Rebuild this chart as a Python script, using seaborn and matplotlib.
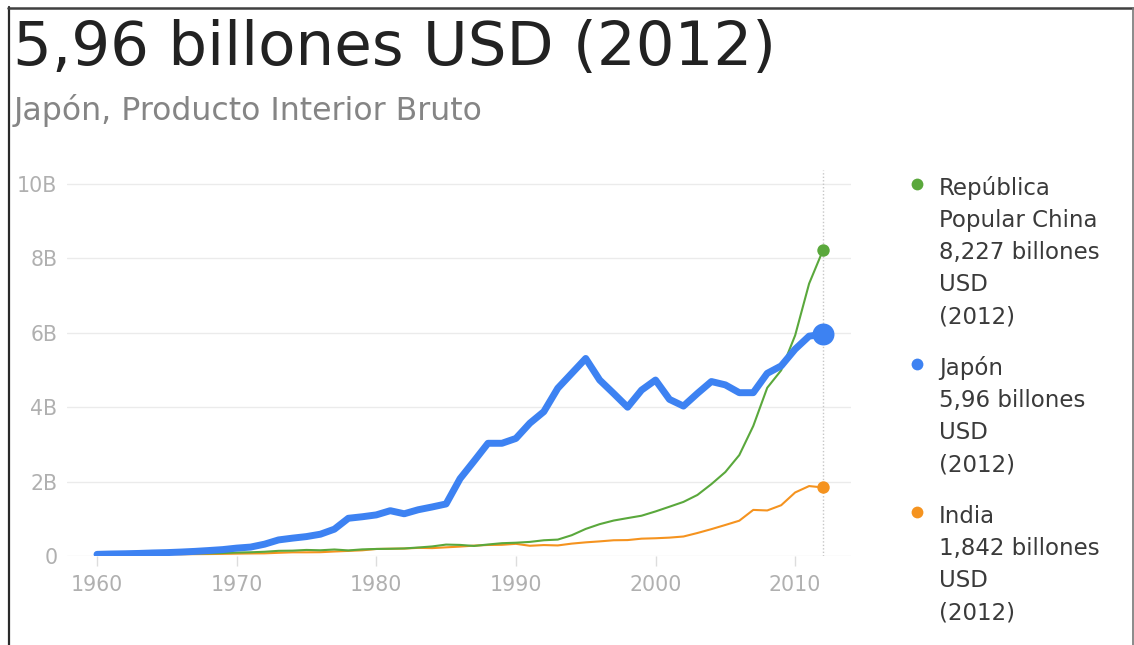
import matplotlib
matplotlib.use("Agg")
import matplotlib.pyplot as plt
import pandas as pd
import seaborn as sns
from matplotlib.lines import Line2D

# GDP, current USD, trillions ("billones")
years = list(range(1960, 2013))
china = [0.060, 0.050, 0.047, 0.051, 0.060, 0.070, 0.077, 0.073, 0.071, 0.080,
         0.093, 0.100, 0.114, 0.139, 0.144, 0.163, 0.154, 0.175, 0.150, 0.178,
         0.189, 0.194, 0.203, 0.228, 0.257, 0.307, 0.298, 0.270, 0.309, 0.344,
         0.357, 0.379, 0.423, 0.441, 0.559, 0.728, 0.856, 0.953, 1.019, 1.083,
         1.198, 1.325, 1.454, 1.641, 1.932, 2.257, 2.713, 3.494, 4.522, 4.992,
         5.931, 7.322, 8.227]
japan = [0.044, 0.054, 0.060, 0.069, 0.082, 0.091, 0.106, 0.124, 0.147, 0.172,
         0.212, 0.240, 0.318, 0.432, 0.480, 0.522, 0.586, 0.721, 1.014, 1.055,
         1.105, 1.218, 1.135, 1.243, 1.318, 1.399, 2.078, 2.550, 3.030, 3.030,
         3.160, 3.570, 3.880, 4.510, 4.910, 5.310, 4.730, 4.370, 4.000, 4.460,
         4.730, 4.210, 4.030, 4.370, 4.690, 4.600, 4.390, 4.390, 4.910, 5.110,
         5.560, 5.910, 5.960]
india = [0.037, 0.039, 0.042, 0.048, 0.056, 0.059, 0.046, 0.050, 0.053, 0.057,
         0.063, 0.068, 0.071, 0.086, 0.099, 0.099, 0.102, 0.121, 0.137, 0.153,
         0.189, 0.196, 0.200, 0.219, 0.212, 0.233, 0.253, 0.279, 0.296, 0.301,
         0.327, 0.275, 0.294, 0.284, 0.333, 0.367, 0.393, 0.423, 0.428, 0.466,
         0.477, 0.494, 0.524, 0.618, 0.722, 0.834, 0.949, 1.239, 1.224, 1.365,
         1.708, 1.880, 1.842]

countries = ["República Popular China", "Japón", "India"]
legend_name_lines = [["República", "Popular China"], ["Japón"], ["India"]]
x_ticks = [1960, 1970, 1980, 1990, 2000, 2010]
y_ticks = [0, 2, 4, 6, 8, 10]
y_tick_labels = ["0", "2B", "4B", "6B", "8B", "10B"]
last_year = 2012
subtitle = "Japón, Producto Interior Bruto"

colors = {"República Popular China": "#5aa83c", "Japón": "#3d82f2", "India": "#f5931f"}
widths = {"República Popular China": 1.5, "Japón": 5.0, "India": 1.5}
end_sizes = {"República Popular China": 80, "Japón": 250, "India": 80}

df = pd.DataFrame({
    "year": years * 3,
    "gdp": china + japan + india,
    "country": [countries[0]] * len(years) + [countries[1]] * len(years) + [countries[2]] * len(years),
})


def fmt(v):
    return f"{v:g}".replace(".", ",")


sns.set_theme(style="white")
plt.rcParams["font.family"] = ["DejaVu Sans"]

W, H = 1134, 645
fig = plt.figure(figsize=(W / 100, H / 100), dpi=100)
fig.patch.set_facecolor("white")


def fx(x):
    return x / W


def fy(y):
    return 1 - y / H


ax = fig.add_axes([fx(67), fy(556), (851 - 67) / W, (556 - 170) / H])
ax.set_facecolor("white")

# highlighted series drawn last so it sits on top
for name in ["India", "República Popular China", "Japón"]:
    sub = df[df["country"] == name]
    sns.lineplot(data=sub, x="year", y="gdp", ax=ax, color=colors[name],
                 linewidth=widths[name], solid_joinstyle="round",
                 solid_capstyle="round", legend=False, zorder=3)
    last = sub[sub["year"] == last_year]
    ax.scatter(last["year"], last["gdp"], s=end_sizes[name], color=colors[name],
               zorder=4, clip_on=False, linewidths=0)

ax.axvline(last_year, color="#c6c6c6", linestyle=(0, (1, 1.5)), linewidth=1, zorder=1)

ax.set_xlim(1957.85, 2014.0)
ax.set_ylim(0, 10.376)
ax.set_xticks(x_ticks)
ax.set_xticklabels([str(t) for t in x_ticks])
ax.set_yticks(y_ticks)
ax.set_yticklabels(y_tick_labels)
ax.set_xlabel("")
ax.set_ylabel("")
ax.set_axisbelow(True)
ax.yaxis.grid(True, color="#ebebeb", linewidth=1)
ax.xaxis.grid(False)
for s in ax.spines.values():
    s.set_visible(False)
ax.tick_params(axis="x", bottom=True, length=7, width=1, color="#dddddd",
               labelsize=14.8, labelcolor="#b0b0b0", pad=7)
ax.tick_params(axis="y", left=False, length=0, labelsize=14.8,
               labelcolor="#b0b0b0", pad=7)

# header
fig.text(fx(13), fy(65), f"{fmt(japan[-1])} billones USD ({last_year})",
         fontsize=44, color="#222222", va="baseline", ha="left")
fig.text(fx(14), fy(120), subtitle, fontsize=22.7, color="#858585",
         va="baseline", ha="left")

# legend with latest values
values = {"República Popular China": china[-1], "Japón": japan[-1], "India": india[-1]}
baseline = 195
for name, name_lines in zip(countries, legend_name_lines):
    lines = name_lines + [f"{fmt(values[name])} billones", "USD", f"({last_year})"]
    fig.add_artist(Line2D([fx(917)], [fy(baseline - 11)], marker="o", markersize=8.5,
                          color=colors[name], transform=fig.transFigure,
                          markeredgewidth=0))
    for line in lines:
        fig.text(fx(939), fy(baseline), line, fontsize=16.5, color="#3a3a3a",
                 va="baseline", ha="left")
        baseline += 32
    baseline += 20

# frame edges
fig.add_artist(Line2D([fx(8.5), fx(8.5)], [0, fy(7)], transform=fig.transFigure,
                      color="#2a2a2a", linewidth=1.6))
fig.add_artist(Line2D([fx(8), 1], [fy(8), fy(8)], transform=fig.transFigure,
                      color="#404040", linewidth=1.8))
fig.add_artist(Line2D([fx(1133), fx(1133)], [0, fy(8)], transform=fig.transFigure,
                      color="#777777", linewidth=1.2))

fig.savefig("out.png", dpi=100, facecolor="white")
